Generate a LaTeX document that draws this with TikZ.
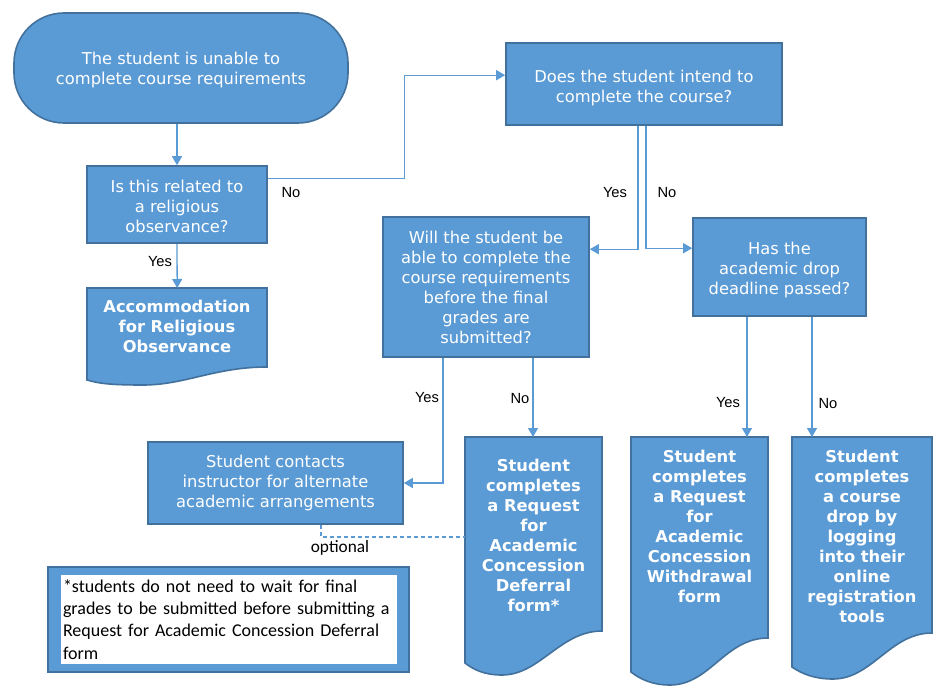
\documentclass[tikz,border=0pt]{standalone}
\usepackage{fontspec}
\setmainfont{DejaVu Sans}
\newfontfamily\labfont{Liberation Sans}
\newfontfamily\calfont{Carlito}
\usetikzlibrary{arrows.meta,calc}
\definecolor{fillb}{HTML}{5B9BD5}
\definecolor{edgeb}{HTML}{41719C}
\definecolor{lineb}{HTML}{5B9BD5}
\newcommand{\lowerby}[1]{\rule{0pt}{#1}}
\begin{document}
\begin{tikzpicture}[x=1pt,y=-1pt,
  box/.style={draw=edgeb, fill=fillb, line width=1.6pt, text=white, align=center, inner sep=0pt,
    font=\fontsize{16.3}{20}\selectfont},
  docshape/.style={draw=edgeb, fill=fillb, line width=1.6pt},
  doctext/.style={text=white, align=center, inner sep=0pt, font=\fontsize{16.3}{20}\selectfont\bfseries},
  anchorbox/.style={inner sep=0pt, anchor=north west},
  arr/.style={draw=lineb, line width=1.3pt, -{Triangle[length=9pt,width=10pt]}},
  optline/.style={draw=lineb, line width=1.3pt, dash pattern=on 4pt off 3pt},
  lbl/.style={font=\labfont\fontsize{14.7}{17}\selectfont, inner sep=0pt},
]
\useasboundingbox (0,0) rectangle (945,695);
\fill[white] (0,0) rectangle (945,695);

% boxes
\node[box, rounded corners=50pt, minimum width=334pt, minimum height=110pt] (start) at (181,68)
  {\lowerby{17pt}The student is unable to\\complete course requirements};
\node[box, minimum width=180pt, minimum height=77pt] (rel) at (177,204.5)
  {\lowerby{17pt}Is this related to\\a religious\\observance?};
\node[box, minimum width=276pt, minimum height=82pt] (does) at (644,84)
  {\lowerby{21pt}Does the student intend to\\complete the course?};
\node[box, minimum width=206pt, minimum height=140pt] (will) at (486,287)
  {Will the student be\\able to complete the\\course requirements\\before the final\\grades are\\submitted?};
\node[box, minimum width=173pt, minimum height=98pt] (has) at (779.5,267)
  {\lowerby{18pt}Has the\\academic drop\\deadline passed?};
\node[box, minimum width=255pt, minimum height=82pt] (contact) at (275.5,483)
  {Student contacts\\instructor for alternate\\academic arrangements};

% document shapes
\node[anchorbox, minimum width=180pt, minimum height=79pt] (acc) at (87,288) {};
\path[docshape] (87,288) -- (267,288) -- (267,367) .. controls (215,367) and (185,385) .. (143,385)
  .. controls (115,385) and (100,384) .. (87,380) -- cycle;
\node[doctext] (accT) at (177,326) {Accommodation\\for Religious\\Observance};

\node[anchorbox, minimum width=137pt, minimum height=194pt] (def) at (465,437) {};
\path[docshape] (465,437) -- (602,437) -- (602,631) .. controls (560,631) and (540,675) .. (502,675)
  .. controls (485,675) and (474,670) .. (465,663) -- cycle;
\node[doctext] (defT) at (533.5,535) {Student\\completes\\a Request\\for\\Academic\\Concession\\Deferral\\form*};

\node[anchorbox, minimum width=137pt, minimum height=201pt] (wd) at (631,437) {};
\path[docshape] (631,437) -- (768,437) -- (768,638) .. controls (725,638) and (710,685) .. (670,685)
  .. controls (652,685) and (640,679) .. (631,672) -- cycle;
\node[doctext] (wdT) at (699.5,526) {Student\\completes\\a Request\\for\\Academic\\Concession\\Withdrawal\\form};

\node[anchorbox, minimum width=140pt, minimum height=196pt] (cd) at (792,437) {};
\path[docshape] (792,437) -- (932,437) -- (932,633) .. controls (890,633) and (872,679) .. (833,679)
  .. controls (815,679) and (802,674) .. (792,667) -- cycle;
\node[doctext] (cdT) at (862,536) {Student\\completes\\a course\\drop by\\logging\\into their\\online\\registration\\tools};

% note
\node[draw=edgeb, fill=fillb, line width=1.6pt, minimum width=361pt, minimum height=105pt, inner sep=0pt]
  (noteout) at (228.5,619.5) {};
\node[fill=white, minimum width=336pt, minimum height=89pt, inner sep=0pt, text width=332pt, align=left,
  font=\calfont\fontsize{18}{22.3}\selectfont] (note) at (229,619.5)
  {*students do not need to wait for final\\grades to be submitted before submitting a\\Request for Academic Concession Deferral\\form};

% connectors
\draw[arr] (start.south -| rel.north) -- (rel.north);
\draw[arr] ([yshift=-13pt]rel.north east) -- ++(137,0) |- ([yshift=-33pt]does.north west);
\draw[arr] (rel.south) -- (acc.north);
\draw[arr] ([xshift=-6pt]does.south) |- ([yshift=-33pt]will.north east);
\draw[arr] ([xshift=2pt]does.south) |- ([yshift=-31pt]has.north west);
\draw[arr] ([xshift=-43pt]will.south) |- (contact.east);
\draw[arr] ([xshift=47pt]will.south) -- ([xshift=47pt]will.south |- def.north);
\draw[arr] ([xshift=-32.5pt]has.south) -- ([xshift=-32.5pt]has.south |- wd.north);
\draw[arr] ([xshift=32.5pt]has.south) -- ([xshift=32.5pt]has.south |- cd.north);
\draw[optline] ([xshift=45.5pt]contact.south) |- ([yshift=-100pt]def.north west);

% labels
\node[lbl] (l1) at (291,193) {No};
\node[lbl] (l2) at (160,262) {Yes};
\node[lbl] (l3) at (615,193) {Yes};
\node[lbl] (l4) at (667,193) {No};
\node[lbl] (l5) at (427,398) {Yes};
\node[lbl] (l6) at (520,399) {No};
\node[lbl] (l7) at (728,403) {Yes};
\node[lbl] (l8) at (828,404) {No};
\node[font=\calfont\fontsize{17.3}{20}\selectfont, inner sep=0pt] (opt) at (340,548) {optional};
\end{tikzpicture}
\end{document}
